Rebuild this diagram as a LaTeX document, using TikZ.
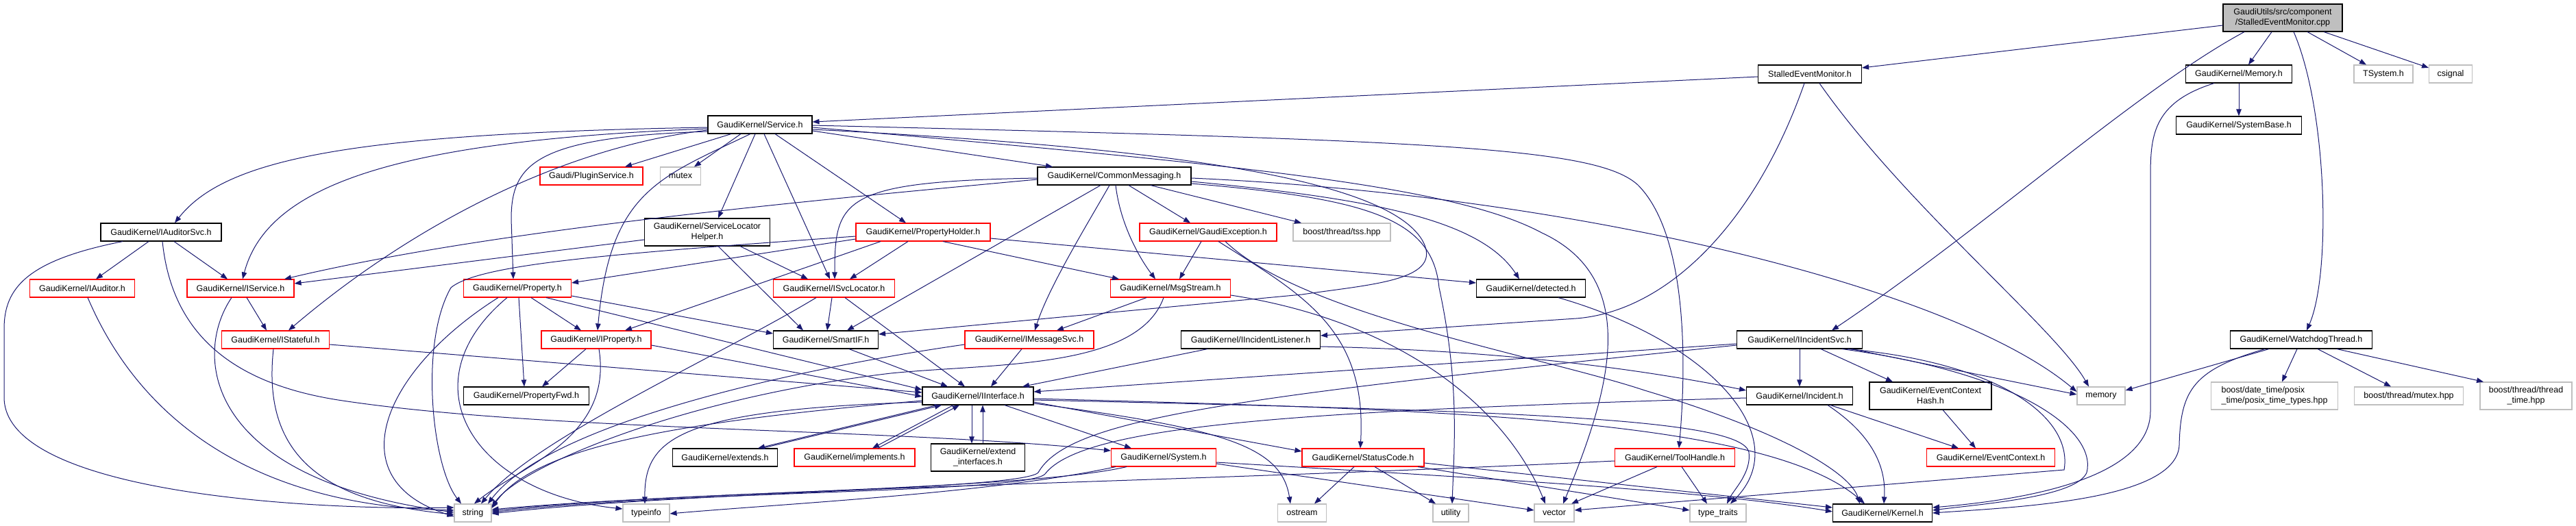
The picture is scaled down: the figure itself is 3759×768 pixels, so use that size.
\documentclass[tikz,border=0pt]{standalone}
\usepackage{fontspec}
\setmainfont{Liberation Sans}
\usetikzlibrary{arrows.meta}
\definecolor{edgeblue}{RGB}{25,25,112}
\definecolor{grey75}{RGB}{191,191,191}
\tikzset{
    inc/.style={draw=black, line width=1.1pt, inner sep=0pt, minimum height=26pt,
        align=center, font=\fontsize{12.5}{15}\selectfont},
    incred/.style={inc, draw=red},
    incsys/.style={inc, draw=grey75},
    dep/.style={draw=edgeblue, line width=1pt, -{Triangle[length=10pt,width=7.5pt]}}
}
\begin{document}
\begin{tikzpicture}[x=1pt, y=-1pt]
\fill[white] (0,0) rectangle (3759,768);
\useasboundingbox (0,0) rectangle (3759,768);
\node[inc, fill=grey75, minimum width=174pt, minimum height=40pt] (root) at (3331,26) {GaudiUtils/src/component\\/StalledEventMonitor.cpp};
\node[inc, minimum width=151pt] (sem) at (2641,108) {StalledEventMonitor.h};
\node[inc, minimum width=155pt] (memh) at (3267,108) {GaudiKernel/Memory.h};
\node[incsys, minimum width=86pt] (tsys) at (3478,108) {TSystem.h};
\node[incsys, minimum width=63pt] (csig) at (3576,108) {csignal};
\node[inc, minimum width=183pt] (sysbase) at (3267,183) {GaudiKernel/SystemBase.h};
\node[inc, minimum width=152pt] (svc) at (1109,182) {GaudiKernel/Service.h};
\node[incred, minimum width=150pt] (plugin) at (863,257) {Gaudi/PluginService.h};
\node[incsys, minimum width=59pt] (mutex) at (993,257) {mutex};
\node[inc, minimum width=224pt] (cmsg) at (1626,257) {GaudiKernel/CommonMessaging.h};
\node[incsys, minimum width=142pt] (tss) at (1958,339) {boost/thread/tss.hpp};
\node[inc, minimum width=176pt] (iaudsvc) at (235,339) {GaudiKernel/IAuditorSvc.h};
\node[inc, minimum width=183pt, minimum height=40pt] (slh) at (1032,339) {GaudiKernel/ServiceLocator\\Helper.h};
\node[incred, minimum width=196pt] (pholder) at (1347,339) {GaudiKernel/PropertyHolder.h};
\node[incred, minimum width=200pt] (gexc) at (1763,339) {GaudiKernel/GaudiException.h};
\node[incred, minimum width=153pt] (iaud) at (120,421) {GaudiKernel/IAuditor.h};
\node[incred, minimum width=156pt] (isvc) at (351,421) {GaudiKernel/IService.h};
\node[incred, minimum width=157pt] (prop) at (755,421) {GaudiKernel/Property.h};
\node[incred, minimum width=177pt] (isvcloc) at (1217,421) {GaudiKernel/ISvcLocator.h};
\node[incred, minimum width=175pt] (msgs) at (1708,421) {GaudiKernel/MsgStream.h};
\node[inc, minimum width=159pt] (detected) at (2234,421) {GaudiKernel/detected.h};
\node[incred, minimum width=157pt] (istate) at (402,496) {GaudiKernel/IStateful.h};
\node[incred, minimum width=160pt] (iprop) at (870,496) {GaudiKernel/IProperty.h};
\node[inc, minimum width=153pt] (smartif) at (1205,496) {GaudiKernel/SmartIF.h};
\node[incred, minimum width=188pt] (imsg) at (1502,496) {GaudiKernel/IMessageSvc.h};
\node[inc, minimum width=203pt] (iilist) at (1825,496) {GaudiKernel/IIncidentListener.h};
\node[inc, minimum width=183pt] (iisvc) at (2626,496) {GaudiKernel/IIncidentSvc.h};
\node[inc, minimum width=207pt] (wdog) at (3358,496) {GaudiKernel/WatchdogThread.h};
\node[inc, minimum width=183pt] (pfwd) at (768,578) {GaudiKernel/PropertyFwd.h};
\node[inc, minimum width=162pt] (iint) at (1427,578) {GaudiKernel/IInterface.h};
\node[inc, minimum width=155pt] (incident) at (2626,578) {GaudiKernel/Incident.h};
\node[inc, minimum width=178pt, minimum height=40pt] (echash) at (2817,578) {GaudiKernel/EventContext\\Hash.h};
\node[incsys, minimum width=70pt] (memory) at (3066,578) {memory};
\node[incsys, minimum width=185pt, minimum height=40pt, align=left] (posix) at (3319,578) {boost/date\_time/posix\\\_time/posix\_time\_types.hpp};
\node[incsys, minimum width=159pt] (bmutex) at (3515,578) {boost/thread/mutex.hpp};
\node[incsys, minimum width=134pt, minimum height=40pt] (ttime) at (3686,578) {boost/thread/thread\\\_time.hpp};
\node[inc, minimum width=153pt] (extends) at (1058,668) {GaudiKernel/extends.h};
\node[incred, minimum width=176pt] (impl) at (1247,668) {GaudiKernel/implements.h};
\node[inc, minimum width=137pt, minimum height=40pt] (extif) at (1427,668) {GaudiKernel/extend\\\_interfaces.h};
\node[incred, minimum width=153pt] (system) at (1698,668) {GaudiKernel/System.h};
\node[incred, minimum width=178pt] (status) at (1989,668) {GaudiKernel/StatusCode.h};
\node[incred, minimum width=175pt] (toolh) at (2444,668) {GaudiKernel/ToolHandle.h};
\node[incred, minimum width=187pt] (ectx) at (2905,668) {GaudiKernel/EventContext.h};
\node[incsys, minimum width=54pt] (string) at (690,749) {string};
\node[incsys, minimum width=68pt] (typeinfo) at (943,749) {typeinfo};
\node[incsys, minimum width=71pt] (ostream) at (1900,749) {ostream};
\node[incsys, minimum width=52pt] (utility) at (2117,749) {utility};
\node[incsys, minimum width=58pt] (vector) at (2268,749) {vector};
\node[incsys, minimum width=82pt] (ttraits) at (2507,749) {type\_traits};
\node[inc, minimum width=145pt] (kernel) at (2747,749) {GaudiKernel/Kernel.h};

\draw[dep] ([yshift=-11pt]root.west) -- ([yshift=9pt]sem.east);
\draw[dep] ([xshift=-56pt]root.south) .. controls (3120,130) and (2900,330) .. ([xshift=47pt]iisvc.north);
\draw[dep] ([xshift=-16pt]root.south) -- ([xshift=14pt]memh.north);
\draw[dep] ([xshift=16pt]root.south) .. controls (3396,160) and (3402,400) .. ([xshift=8pt]wdog.north);
\draw[dep] ([xshift=36pt]root.south) -- ([xshift=-25pt]tsys.north);
\draw[dep] ([xshift=60pt]root.south) -- ([yshift=9pt]csig.west);

\draw[dep] ([yshift=-4pt]sem.west) -- ([yshift=4pt]svc.east);
\draw[dep] ([xshift=-8pt]sem.south) .. controls (2560,330) and (2430,455) .. (2300,465) -- ([yshift=6pt]iilist.east);
\draw[dep] ([xshift=14pt]sem.south) .. controls (2780,300) and (3000,480) .. ([xshift=-18pt]memory.north);

\draw[dep] (memh) -- (sysbase);
\draw[dep] ([xshift=-36pt]memh.south) .. controls (3140,150) and (3138,200) .. (3138,260) -- (3138,600) .. controls (3138,700) and (2950,730) .. ([yshift=8pt]kernel.east);

\draw[dep] ([xshift=-47pt]wdog.south) -- ([yshift=8pt]memory.east);
\draw[dep] ([xshift=-53pt]wdog.south) .. controls (3200,540) and (3182,570) .. (3180,650) .. controls (3176,730) and (2950,740) .. (kernel.east);
\draw[dep] ([xshift=-6pt]wdog.south) -- ([xshift=11pt]posix.north);
\draw[dep] ([xshift=24pt]wdog.south) -- ([xshift=-26pt]bmutex.north);
\draw[dep] ([xshift=52pt]wdog.south) -- ([xshift=-62pt]ttime.north);

\draw[dep] ([yshift=-4pt]svc.west) .. controls (520,195) and (330,230) .. ([xshift=20pt]iaudsvc.north);
\draw[dep] ([yshift=-6pt]svc.west) .. controls (580,205) and (390,270) .. ([xshift=3pt]isvc.north);
\draw[dep] ([yshift=-8pt]svc.west) .. controls (820,215) and (600,330) .. ([xshift=19pt]istate.north);
\draw[dep] ([yshift=-10pt]svc.west) .. controls (780,200) and (746,240) .. (746,320) -- ([xshift=-6pt]prop.north);
\draw[dep] ([xshift=-14pt]svc.south) .. controls (960,260) and (890,280) .. ([xshift=2pt]iprop.north);
\draw[dep] ([xshift=-42pt]svc.south) -- ([xshift=49pt]plugin.north);
\draw[dep] ([xshift=-28pt]svc.south) -- ([xshift=20pt]mutex.north);
\draw[dep] ([xshift=-7pt]svc.south) -- ([xshift=16pt]slh.north);
\draw[dep] ([xshift=6pt]svc.south) -- ([xshift=-6pt]isvcloc.north);
\draw[dep] ([xshift=22pt]svc.south) -- ([xshift=-25pt]pholder.north);
\draw[dep] ([yshift=-9pt]svc.east) -- ([xshift=-90pt]cmsg.north);
\draw[dep] ([yshift=-1pt]svc.east) .. controls (2100,205) and (2330,215) .. (2390,270) .. controls (2460,340) and (2462,520) .. ([xshift=6pt]toolh.north);
\draw[dep] ([yshift=-4pt]svc.east) .. controls (1800,240) and (2120,270) .. (2250,340) .. controls (2400,410) and (2345,580) .. ([xshift=13pt]vector.north);
\draw[dep] ([yshift=-7pt]svc.east) .. controls (1700,215) and (2020,260) .. (2075,350) .. controls (2110,410) and (2000,415) .. (1900,430) -- ([yshift=8pt]smartif.east);

\draw[dep] ([yshift=-5pt]cmsg.west) .. controls (1100,300) and (700,340) .. ([xshift=64pt]isvc.north);
\draw[dep] ([yshift=-3pt]cmsg.west) .. controls (1230,265) and (1218,290) .. ([xshift=1pt]isvcloc.north);
\draw[dep] ([xshift=-20pt]cmsg.south) -- ([xshift=31pt]smartif.north);
\draw[dep] ([xshift=-7pt]cmsg.south) .. controls (1585,330) and (1530,420) .. ([xshift=8pt]imsg.north);
\draw[dep] ([xshift=2pt]cmsg.south) .. controls (1635,330) and (1665,380) .. ([xshift=-22pt]msgs.north);
\draw[dep] ([xshift=21pt]cmsg.south) -- ([xshift=-26pt]gexc.north);
\draw[dep] ([xshift=53pt]cmsg.south) -- ([xshift=-59pt]tss.north);
\draw[dep] ([yshift=-3pt]cmsg.east) .. controls (2300,285) and (2850,420) .. ([yshift=6pt]memory.west);
\draw[dep] ([yshift=-8pt]cmsg.east) .. controls (2000,290) and (2160,320) .. ([xshift=-17pt]detected.north);
\draw[dep] ([yshift=-11pt]cmsg.east) .. controls (2000,290) and (2090,320) .. (2100,420) .. controls (2130,560) and (2122,650) .. ([xshift=2pt]utility.north);

\draw[dep] ([xshift=-18pt]iaudsvc.south) -- ([xshift=20pt]iaud.north);
\draw[dep] ([xshift=19pt]iaudsvc.south) -- ([xshift=-19pt]isvc.north);
\draw[dep] ([xshift=2pt]iaudsvc.south) .. controls (250,480) and (330,560) .. (500,585) .. controls (800,630) and (1300,625) .. ([yshift=10pt]system.west);
\draw[dep] ([xshift=-56pt]iaudsvc.south) .. controls (40,380) and (6,420) .. (6,480) -- (6,580) .. controls (6,720) and (450,745) .. ([yshift=8pt]string.west);

\draw[dep] ([xshift=8pt]iaud.south) .. controls (220,650) and (420,740) .. ([yshift=4pt]string.west);
\draw[dep] ([xshift=9pt]isvc.south) -- ([xshift=-13pt]istate.north);
\draw[dep] ([xshift=-13pt]isvc.south) .. controls (280,520) and (300,700) .. ([yshift=1pt]string.west);
\draw[dep] ([yshift=-7pt]istate.east) -- ([yshift=5pt]iint.west);
\draw[dep] ([xshift=-3pt]istate.south) .. controls (385,640) and (440,730) .. ([yshift=-2pt]string.west);

\draw[dep] ([yshift=-11pt]slh.west) -- ([yshift=7pt]isvc.east);
\draw[dep] ([xshift=48pt]slh.south) -- ([xshift=-38pt]isvcloc.north);
\draw[dep] ([xshift=16pt]slh.south) -- ([xshift=-33pt]smartif.north);

\draw[dep] ([yshift=-10pt]pholder.west) -- ([yshift=8pt]prop.east);
\draw[dep] ([yshift=-6pt]pholder.west) .. controls (900,370) and (700,385) .. (658,420) .. controls (612,500) and (630,680) .. ([xshift=-17pt]string.north);
\draw[dep] ([xshift=-22pt]pholder.south) -- ([xshift=23pt]isvcloc.north);
\draw[dep] ([xshift=-62pt]pholder.south) -- ([xshift=42pt]iprop.north);
\draw[dep] ([xshift=29pt]pholder.south) -- ([xshift=-75pt]msgs.north);
\draw[dep] ([yshift=-9pt]pholder.east) -- ([yshift=8pt]detected.west);

\draw[dep] ([xshift=-10pt]gexc.south) -- ([xshift=13pt]msgs.north);
\draw[dep] ([xshift=15pt]gexc.south) .. controls (1900,430) and (1995,480) .. ([xshift=-4pt]status.north);
\draw[dep] ([xshift=25pt]gexc.south) .. controls (1900,460) and (2250,520) .. (2400,570) .. controls (2600,630) and (2700,690) .. ([xshift=-33pt]kernel.north);

\draw[dep] ([xshift=20pt]prop.south) -- ([xshift=-22pt]iprop.north);
\draw[dep] ([xshift=2pt]prop.south) -- ([xshift=-3pt]pfwd.north);
\draw[dep] ([xshift=-28pt]prop.south) .. controls (560,540) and (490,700) .. ([yshift=-5pt]string.west);
\draw[dep] ([xshift=-15pt]prop.south) .. controls (590,560) and (690,720) .. ([yshift=6pt]typeinfo.west);
\draw[dep] ([yshift=-11pt]prop.east) -- ([yshift=9pt]smartif.west);
\draw[dep] ([xshift=42pt]prop.south) -- ([yshift=9pt]iint.west);

\draw[dep] ([xshift=-15pt]iprop.south) -- ([xshift=23pt]pfwd.north);
\draw[dep] ([xshift=4pt]iprop.south) .. controls (895,640) and (760,680) .. ([xshift=2pt]string.north);
\draw[dep] ([yshift=-8pt]iprop.east) -- ([yshift=-1pt]iint.west);

\draw[dep] ([xshift=-3pt]isvcloc.south) -- ([xshift=2pt]smartif.north);
\draw[dep] ([xshift=16pt]isvcloc.south) -- ([xshift=-19pt]iint.north);
\draw[dep] ([xshift=-26pt]isvcloc.south) .. controls (1050,520) and (780,640) .. ([xshift=12pt]string.north);
\draw[dep] ([xshift=34pt]smartif.south) -- ([xshift=-44pt]iint.north);
\draw[dep] ([xshift=-11pt]imsg.south) -- ([xshift=19pt]iint.north);
\draw[dep] ([yshift=-7pt]imsg.west) .. controls (1150,540) and (800,620) .. ([xshift=22pt]string.north);

\draw[dep] ([xshift=-35pt]msgs.south) -- ([xshift=40pt]imsg.north);
\draw[dep] ([xshift=-10pt]msgs.south) .. controls (1660,540) and (1450,530) .. (1300,545) .. controls (1000,580) and (760,680) .. ([yshift=9pt]string.east);
\draw[dep] ([yshift=-10pt]msgs.east) .. controls (2050,470) and (2200,600) .. ([xshift=-13pt]vector.north);

\draw[dep] ([xshift=-63pt]iilist.south) -- ([xshift=65pt]iint.north);
\draw[dep] ([yshift=-10pt]iilist.east) .. controls (2200,512) and (2400,540) .. ([yshift=8pt]incident.west);

\draw[dep] (iisvc) -- (incident);
\draw[dep] ([xshift=31pt]iisvc.south) -- ([xshift=-55pt]echash.north);
\draw[dep] ([yshift=-6pt]iisvc.west) -- ([yshift=6pt]iint.east);
\draw[dep] ([yshift=-8pt]iisvc.west) .. controls (1800,580) and (1560,610) .. (1515,690) .. controls (1490,715) and (1000,718) .. ([yshift=-1pt]string.east);
\draw[dep] ([xshift=76pt]iisvc.south) -- ([yshift=2pt]memory.west);
\draw[dep] ([xshift=70pt]iisvc.south) .. controls (2920,530) and (3025,610) .. (3012,686) -- ([yshift=4pt]vector.east);
\draw[dep] ([xshift=62pt]iisvc.south) .. controls (2950,545) and (3060,630) .. (3045,690) .. controls (3030,725) and (2900,735) .. ([yshift=4pt]kernel.east);

\draw[dep] ([xshift=41pt]incident.south) .. controls (2740,640) and (2752,690) .. ([xshift=2pt]kernel.north);
\draw[dep] ([xshift=45pt]incident.south) -- ([xshift=-47pt]ectx.north);
\draw[dep] ([yshift=-3pt]incident.west) .. controls (1900,600) and (1580,620) .. (1525,692) .. controls (1500,720) and (1000,716) .. ([yshift=1pt]string.east);
\draw[dep] ([xshift=18pt]echash.south) -- ([xshift=-22pt]ectx.north);

\draw[dep] ([xshift=-60pt]iint.south) -- ([xshift=48pt]extends.north);
\draw[dep] ([xshift=54pt]extends.north) -- ([xshift=-53pt]iint.south);
\draw[dep] ([xshift=-36pt]iint.south) -- ([xshift=26pt]impl.north);
\draw[dep] ([xshift=34pt]impl.north) -- ([xshift=-27pt]iint.south);
\draw[dep] ([xshift=-9pt]iint.south) -- ([xshift=-9pt]extif.north);
\draw[dep] ([xshift=7pt]extif.north) -- ([xshift=7pt]iint.south);
\draw[dep] ([xshift=39pt]iint.south) -- ([xshift=-47pt]system.north);
\draw[dep] ([yshift=-9pt]iint.east) -- ([yshift=9pt]status.west);
\draw[dep] ([yshift=-11pt]iint.east) .. controls (1780,625) and (1870,650) .. ([xshift=-17pt]ostream.north);
\draw[dep] ([yshift=-4pt]iint.east) .. controls (2100,598) and (2580,610) .. ([xshift=-26pt]kernel.north);
\draw[dep] ([yshift=-6pt]iint.east) .. controls (2200,600) and (2540,610) .. (2552,660) .. controls (2556,690) and (2530,715) .. ([xshift=13pt]ttraits.north);
\draw[dep] ([yshift=-7pt]iint.west) .. controls (1000,615) and (780,650) .. ([yshift=7pt]string.east);
\draw[dep] ([yshift=-9pt]iint.west) .. controls (990,598) and (940,640) .. ([xshift=-2pt]typeinfo.north);

\draw[dep] ([xshift=-54pt]system.south) .. controls (1500,715) and (1000,718) .. ([yshift=5pt]string.east);
\draw[dep] ([xshift=-70pt]system.south) .. controls (1450,720) and (1150,735) .. ([yshift=-1pt]typeinfo.east);
\draw[dep] ([yshift=-9pt]system.east) -- ([yshift=4pt]vector.west);
\draw[dep] ([yshift=-7pt]system.east) .. controls (2200,700) and (2500,718) .. ([yshift=2pt]kernel.west);

\draw[dep] ([xshift=-13pt]status.south) -- ([xshift=18pt]ostream.north);
\draw[dep] ([xshift=17pt]status.south) -- ([xshift=-22pt]utility.north);
\draw[dep] ([xshift=80pt]status.south) -- ([yshift=4pt]ttraits.west);
\draw[dep] ([yshift=-8pt]status.east) -- ([yshift=8pt]kernel.west);

\draw[dep] ([xshift=-26pt]toolh.south) -- ([xshift=25pt]vector.north);
\draw[dep] ([xshift=10pt]toolh.south) -- ([xshift=-16pt]ttraits.north);
\draw[dep] ([yshift=-5pt]toolh.west) .. controls (1700,705) and (1000,715) .. ([yshift=3pt]string.east);

\draw[dep] ([xshift=40pt]detected.south) .. controls (2500,500) and (2620,640) .. ([xshift=18pt]ttraits.north);
\end{tikzpicture}
\end{document}
